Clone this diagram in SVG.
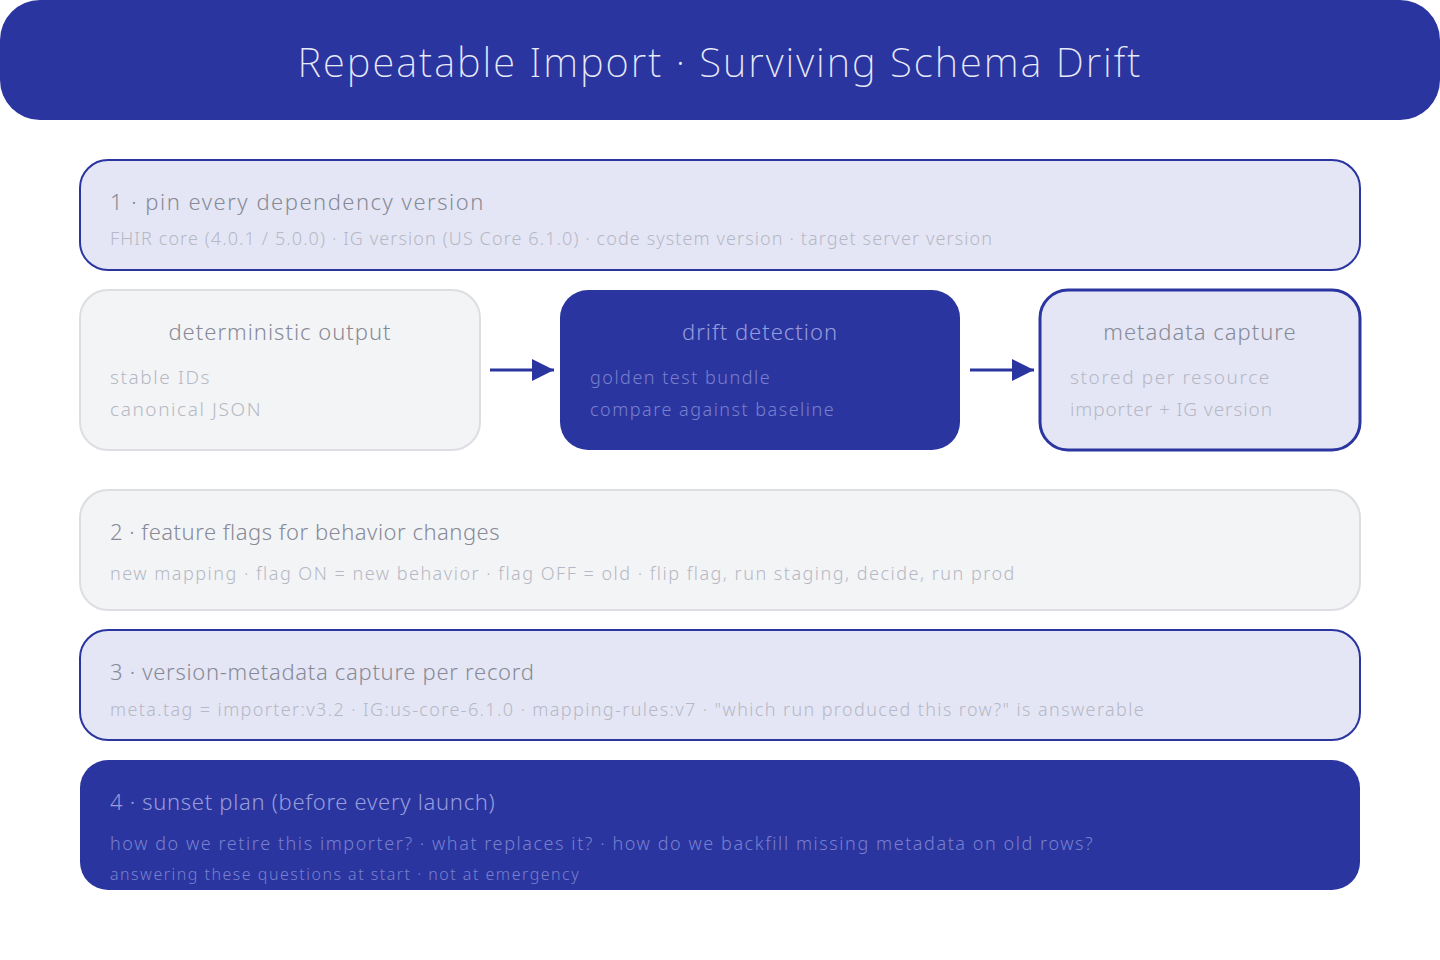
<svg xmlns="http://www.w3.org/2000/svg" width="1440" height="960" viewBox="0 0 1440 960">
<defs>
<marker id="arr" viewBox="0 0 22 22" refX="22" refY="11" markerWidth="22" markerHeight="22" orient="auto" markerUnits="userSpaceOnUse">
<path d="M0,0 L22,11 L0,22 z" fill="#2B35A0"/>
</marker>
<style>
text{font-family:"Noto Sans","Open Sans",sans-serif;font-weight:300}
.band{fill:#2B35A0}
.lite{fill:#E4E6F5;stroke:#2B35A0;stroke-width:2}
.grey{fill:#F3F4F6;stroke:#DDDEE2;stroke-width:2}
.dark{fill:#2B35A0}
.t-title{font-size:40px;fill:#E8EAF8;font-weight:200;letter-spacing:2px}
.h{font-size:22px;fill:#888A97;letter-spacing:0.7px}
.s{font-size:18px;fill:#B6B8C5;letter-spacing:1.5px}
.b{font-size:19px;letter-spacing:1.6px}
.hd{font-size:22px;fill:#979DDC;letter-spacing:0.7px}
.sd{font-size:18px;fill:#7880CE;letter-spacing:1.5px}
.conn{stroke:#2B35A0;stroke-width:3;fill:none}
</style>
</defs>
<rect x="0" y="0" width="1440" height="960" fill="#FFFFFF"/>
<g id="title">
<rect class="band" x="0" y="0" width="1440" height="120" rx="40"/>
<text class="t-title" x="720" y="77" text-anchor="middle">Repeatable Import · Surviving Schema Drift</text>
</g>
<g id="step1">
<rect class="lite" x="80" y="160" width="1280" height="110" rx="28"/>
<text class="h" x="110" y="210" style="letter-spacing:1.5px">1 · pin every dependency version</text>
<text class="s" x="110" y="245" style="letter-spacing:1.1px">FHIR core (4.0.1 / 5.0.0) · IG version (US Core 6.1.0) · code system version · target server version</text>
</g>
<g id="deterministic">
<rect class="grey" x="80" y="290" width="400" height="160" rx="28"/>
<text class="h" x="280" y="340" text-anchor="middle" style="letter-spacing:1px">deterministic output</text>
<text class="s b" x="110" y="384">stable IDs</text>
<text class="s b" x="110" y="416">canonical JSON</text>
</g>
<g id="drift">
<rect class="dark" x="560" y="290" width="400" height="160" rx="28"/>
<text class="hd" x="760" y="340" text-anchor="middle" style="letter-spacing:1px">drift detection</text>
<text class="sd b" x="590" y="384">golden test bundle</text>
<text class="sd b" x="590" y="416">compare against baseline</text>
</g>
<g id="metadata">
<rect class="lite" x="1040" y="290" width="320" height="160" rx="28" style="stroke-width:3"/>
<text class="h" x="1200" y="340" text-anchor="middle" style="letter-spacing:1px">metadata capture</text>
<text class="s b" x="1070" y="384">stored per resource</text>
<text class="s b" x="1070" y="416" style="letter-spacing:0.9px">importer + IG version</text>
</g>
<g id="connectors">
<line class="conn" x1="490" y1="370" x2="554" y2="370" marker-end="url(#arr)"/>
<line class="conn" x1="970" y1="370" x2="1034" y2="370" marker-end="url(#arr)"/>
</g>
<g id="step2">
<rect class="grey" x="80" y="490" width="1280" height="120" rx="28"/>
<text class="h" x="110" y="540" style="letter-spacing:0.5px">2 · feature flags for behavior changes</text>
<text class="s" x="110" y="580">new mapping · flag ON = new behavior · flag OFF = old · flip flag, run staging, decide, run prod</text>
</g>
<g id="step3">
<rect class="lite" x="80" y="630" width="1280" height="110" rx="28"/>
<text class="h" x="110" y="680">3 · version-metadata capture per record</text>
<text class="s" x="110" y="716" style="letter-spacing:1.38px">meta.tag = importer:v3.2 · IG:us-core-6.1.0 · mapping-rules:v7 · "which run produced this row?" is answerable</text>
</g>
<g id="step4">
<rect class="dark" x="80" y="760" width="1280" height="130" rx="28"/>
<text class="hd" x="110" y="810">4 · sunset plan (before every launch)</text>
<text class="sd" x="110" y="850" style="letter-spacing:1.57px">how do we retire this importer? · what replaces it? · how do we backfill missing metadata on old rows?</text>
<text class="sd" x="110" y="880" style="font-size:16px">answering these questions at start · not at emergency</text>
</g>
</svg>
